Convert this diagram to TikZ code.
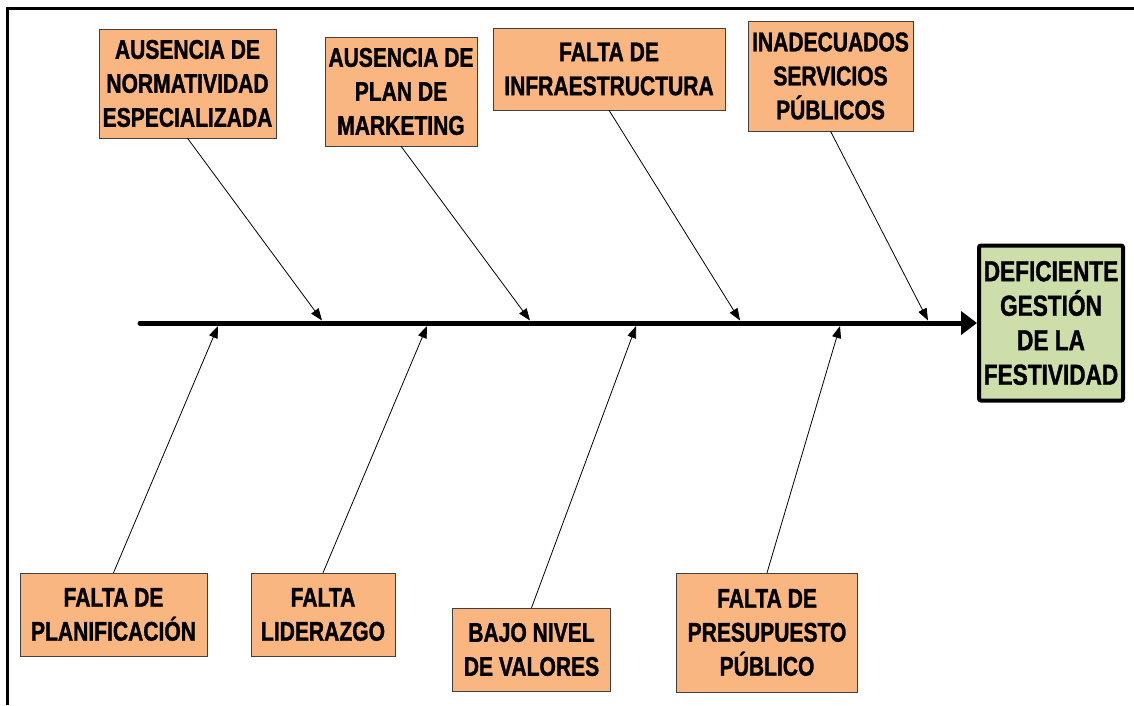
\documentclass[tikz,border=0pt]{standalone}
\usepackage{fontspec}
\setmainfont{Liberation Sans}[FakeStretch=0.78, BoldFeatures={FakeBold=1.2}]
\usetikzlibrary{arrows.meta}
\definecolor{causefill}{RGB}{249,182,128}
\definecolor{effectfill}{RGB}{205,222,170}
\begin{document}
\begin{tikzpicture}
[
x=1pt, y=-1pt,
Frame/.style={draw=black, line width=3pt},
Cause/.style={rectangle, draw=black!75, fill=causefill, thin, align=center, inner sep=0pt,
  font=\fontsize{27}{34}\selectfont\bfseries},
Effect/.style={rectangle, rounded corners=2pt, draw=black, line width=4pt, fill=effectfill,
  align=center, inner sep=0pt, minimum width=144pt, minimum height=155pt,
  font=\fontsize{29}{34.5}\selectfont\bfseries},
Spine/.style={line width=5pt, line cap=round, -{Triangle[length=16pt,width=23pt]}},
Bone/.style={line width=0.8pt, -{Triangle[length=12pt,width=9pt]}},
]

\useasboundingbox (0,0) rectangle (1134,705);

\draw[Frame] (7,705)--(7,8.5)--(1134,8.5);

% effect
\node[Effect] (main) at (1051,323) {DEFICIENTE\\GESTIÓN\\DE LA\\FESTIVIDAD};

\coordinate (tail) at (140,323);
\draw[Spine] (tail) -- (main.west);

% causes above
\node[Cause, minimum width=177pt, minimum height=109pt] (c1) at (187.5,83.5) {AUSENCIA DE\\NORMATIVIDAD\\ESPECIALIZADA};
\node[Cause, minimum width=152pt, minimum height=109pt] (c2) at (401,91.5) {AUSENCIA DE\\PLAN DE\\MARKETING};
\node[Cause, minimum width=232pt, minimum height=82pt] (c3) at (609,69) {FALTA DE\\INFRAESTRUCTURA};
\node[Cause, minimum width=165pt, minimum height=110pt] (c4) at (830.5,76) {INADECUADOS\\SERVICIOS\\PÚBLICOS};

% causes below
\node[Cause, minimum width=187pt, minimum height=83pt] (c5) at (113.5,614.5) {FALTA DE\\PLANIFICACIÓN};
\node[Cause, minimum width=144pt, minimum height=83pt] (c6) at (323,614.5) {FALTA\\LIDERAZGO};
\node[Cause, minimum width=158pt, minimum height=83pt] (c7) at (531.5,649.5) {BAJO NIVEL\\DE VALORES};
\node[Cause, minimum width=181pt, minimum height=119pt] (c8) at (767,632.5) {FALTA DE\\PRESUPUESTO\\PÚBLICO};

\coordinate (j1) at (322,320.5);
\coordinate (j2) at (530,320.5);
\coordinate (j3) at (740,320.5);
\coordinate (j4) at (928,320.5);
\coordinate (j5) at (218,326);
\coordinate (j6) at (427,326);
\coordinate (j7) at (636,326);
\coordinate (j8) at (840,326);

\draw[Bone] (c1.south) -- (j1);
\draw[Bone] (c2.south) -- (j2);
\draw[Bone] (c3.south) -- (j3);
\draw[Bone] (c4.south) -- (j4);
\draw[Bone] (c5.north) -- (j5);
\draw[Bone] (c6.north) -- (j6);
\draw[Bone] (c7.north) -- (j7);
\draw[Bone] (c8.north) -- (j8);

\end{tikzpicture}
\end{document}
